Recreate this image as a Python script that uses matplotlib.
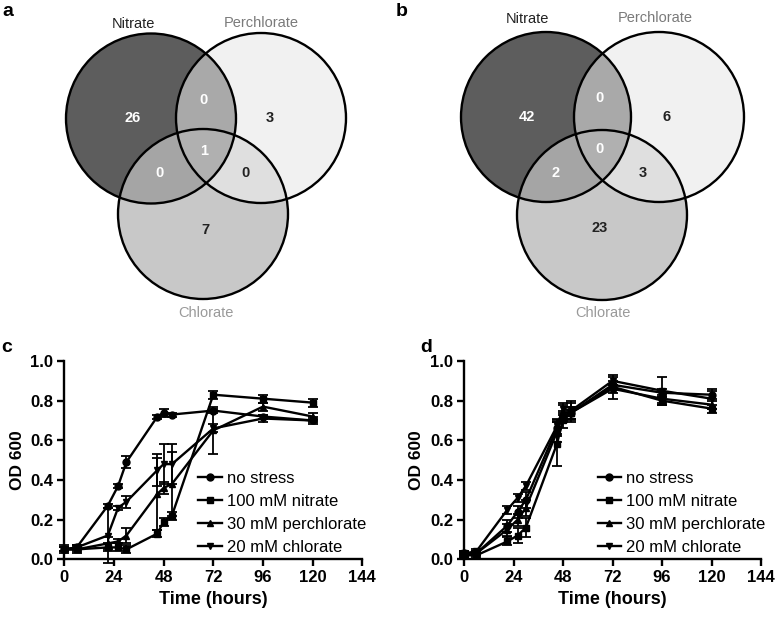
import numpy as np
import matplotlib
matplotlib.use("Agg")
import matplotlib.pyplot as plt
from matplotlib.patches import Circle

plt.rcParams['font.family'] = ['Liberation Sans', 'DejaVu Sans']

# --- Venn counts: [N only, P only, C only, N&P, N&C, P&C, N&P&C]
venn_a = [26, 3, 7, 0, 0, 0, 1]
venn_b = [42, 6, 23, 0, 2, 3, 0]
set_names = ["Nitrate", "Perchlorate", "Chlorate"]

# --- growth curves
hours = [0, 6, 21, 26, 30, 45, 48, 52, 72, 96, 120]
series_names = ["no stress", "100 mM nitrate", "30 mM perchlorate", "20 mM chlorate"]

c_nostress = [0.05, 0.06, 0.27, 0.37, 0.49, 0.72, 0.74, 0.73, 0.75, 0.72, 0.70]
c_nitrate = [0.05, 0.05, 0.06, 0.06, 0.05, 0.13, 0.19, 0.22, 0.83, 0.81, 0.79]
c_perchl = [0.05, 0.05, 0.08, 0.09, 0.12, 0.33, 0.36, 0.38, 0.65, 0.77, 0.72]
c_chlor = [0.05, 0.06, 0.12, 0.26, 0.29, 0.45, 0.48, 0.48, 0.66, 0.71, 0.70]
c_err_nostress = [0.01, 0.01, 0.01, 0.01, 0.03, 0.01, 0.02, 0.01, 0.01, 0.01, 0.01]
c_err_nitrate = [0.02, 0.02, 0.02, 0.02, 0.02, 0.02, 0.02, 0.02, 0.02, 0.02, 0.02]
c_err_perchl = [0.01, 0.01, 0.03, 0.01, 0.04, 0.18, 0.03, 0.16, 0.12, 0.02, 0.02]
c_err_chlor = [0.01, 0.01, 0.14, 0.01, 0.03, 0.08, 0.10, 0.10, 0.02, 0.02, 0.02]

d_nostress = [0.03, 0.03, 0.17, 0.24, 0.30, 0.66, 0.72, 0.74, 0.88, 0.84, 0.83]
d_nitrate = [0.02, 0.02, 0.09, 0.12, 0.16, 0.58, 0.70, 0.74, 0.87, 0.80, 0.76]
d_perchl = [0.02, 0.03, 0.15, 0.20, 0.26, 0.64, 0.74, 0.74, 0.86, 0.81, 0.78]
d_chlor = [0.03, 0.04, 0.25, 0.31, 0.37, 0.67, 0.76, 0.75, 0.90, 0.85, 0.81]
d_err_nostress = [0.01, 0.01, 0.03, 0.03, 0.04, 0.04, 0.03, 0.03, 0.02, 0.02, 0.02]
d_err_nitrate = [0.01, 0.01, 0.02, 0.04, 0.05, 0.11, 0.04, 0.03, 0.06, 0.02, 0.02]
d_err_perchl = [0.01, 0.01, 0.03, 0.03, 0.04, 0.05, 0.04, 0.05, 0.02, 0.02, 0.02]
d_err_chlor = [0.01, 0.01, 0.02, 0.02, 0.02, 0.04, 0.03, 0.05, 0.02, 0.07, 0.05]

markers = ['o', 's', '^', 'v']

fig = plt.figure(figsize=(7.76, 6.18), dpi=100)

# overlay axis in pixel coordinates for the Venn diagrams and panel letters
ov = fig.add_axes([0, 0, 1, 1])
ov.set_xlim(0, 776)
ov.set_ylim(618, 0)
ov.axis('off')

region_colors = {
    'N': (0x5e, 0x5e, 0x5e), 'P': (0xf2, 0xf2, 0xf2), 'C': (0xc8, 0xc8, 0xc8),
    'NP': (0xa9, 0xa9, 0xa9), 'NC': (0xa6, 0xa6, 0xa6), 'PC': (0xe0, 0xe0, 0xe0),
    'NPC': (0xb0, 0xb0, 0xb0),
}


def venn(ax, centers, r, counts, label_pos, count_pos):
    x0 = min(c[0] for c in centers) - r - 2
    x1 = max(c[0] for c in centers) + r + 2
    y0 = min(c[1] for c in centers) - r - 2
    y1 = max(c[1] for c in centers) + r + 2
    xs = np.linspace(x0, x1, int((x1 - x0) * 3))
    ys = np.linspace(y0, y1, int((y1 - y0) * 3))
    X, Y = np.meshgrid(xs, ys)
    inN, inP, inC = [((X - cx) ** 2 + (Y - cy) ** 2) <= r ** 2 for cx, cy in centers]
    img = np.zeros(X.shape + (4,))
    regions = {
        'N': inN & ~inP & ~inC, 'P': ~inN & inP & ~inC, 'C': ~inN & ~inP & inC,
        'NP': inN & inP & ~inC, 'NC': inN & ~inP & inC, 'PC': ~inN & inP & inC,
        'NPC': inN & inP & inC,
    }
    for key, m in regions.items():
        col = np.array(region_colors[key]) / 255.0
        img[m, :3] = col
        img[m, 3] = 1.0
    ax.imshow(img, extent=(x0, x1, y1, y0), origin='upper', interpolation='bilinear', zorder=1)
    for cx, cy in centers:
        ax.add_patch(Circle((cx, cy), r, fill=False, ec='black', lw=1.7, zorder=2))
    name_colors = ['#222222', '#7a7a7a', '#9a9a9a']
    for name, (lx, ly), col in zip(set_names, label_pos, name_colors):
        ax.text(lx, ly, name, ha='center', va='center', fontsize=10.5, color=col)
    keys = ['N', 'P', 'C', 'NP', 'NC', 'PC', 'NPC']
    text_colors = ['white', '#222222', '#222222', 'white', 'white', '#222222', 'white']
    for k, v, (tx, ty), col in zip(keys, counts, count_pos, text_colors):
        ax.text(tx, ty, str(v), ha='center', va='center', fontsize=10.5,
                fontweight='bold', color=col, zorder=3)


venn(ov, [(151, 118.5), (261, 118), (203, 214)], 85, venn_a,
     [(133, 24), (261, 23), (206, 313)],
     [(133, 118), (270, 118), (205, 230), (204, 100), (160, 173), (246, 173), (204, 151)])
venn(ov, [(546, 117), (659, 117), (602, 215)], 85, venn_b,
     [(527, 19), (655, 18), (603, 313)],
     [(527, 117), (667, 117), (600, 228), (600, 98), (556, 173), (643, 173), (600, 149)])

for letter, (lx, ly) in zip('abcd', [(8, 11), (402, 12), (7, 348), (426, 347)]):
    ov.text(lx, ly, letter, ha='center', va='center', fontsize=14, fontweight='bold')


def growth(rect, vals, errs):
    ax = fig.add_axes(rect)
    for name, mk, y, e in zip(series_names, markers, vals, errs):
        ax.errorbar(hours, y, yerr=e, color='black', marker=mk, ms=5, lw=1.7,
                    elinewidth=1.3, capsize=3.5, capthick=1.3, label=name, clip_on=False)
    ax.set_xlim(0, 144)
    ax.set_ylim(0, 1.0)
    ax.set_xticks(range(0, 145, 24))
    ax.set_yticks(np.arange(0, 1.01, 0.2))
    ax.set_yticklabels(['%.1f' % t for t in np.arange(0, 1.01, 0.2)])
    for s in ['top', 'right']:
        ax.spines[s].set_visible(False)
    for s in ['left', 'bottom']:
        ax.spines[s].set_linewidth(1.7)
    ax.tick_params(direction='out', length=5, width=1.7, labelsize=12, pad=3)
    for lab in ax.get_xticklabels() + ax.get_yticklabels():
        lab.set_fontweight('bold')
    ax.set_xlabel('Time (hours)', fontsize=13, fontweight='bold', labelpad=4)
    ax.set_ylabel('OD 600', fontsize=12.5, fontweight='bold', labelpad=4)
    handles, labels = ax.get_legend_handles_labels()
    handles = [h[0] for h in handles]
    ax.legend(handles, labels, loc='upper left', bbox_to_anchor=(0.45, 0.445), frameon=False,
              fontsize=12, handlelength=1.4, handletextpad=0.3, labelspacing=0.48,
              borderpad=0, borderaxespad=0)
    return ax


growth([64.3 / 776, 58.7 / 618, 298 / 776, 198.3 / 618],
       [c_nostress, c_nitrate, c_perchl, c_chlor],
       [c_err_nostress, c_err_nitrate, c_err_perchl, c_err_chlor])
growth([464 / 776, 58.7 / 618, 297 / 776, 198.3 / 618],
       [d_nostress, d_nitrate, d_perchl, d_chlor],
       [d_err_nostress, d_err_nitrate, d_err_perchl, d_err_chlor])

fig.savefig('out.png', dpi=100)
